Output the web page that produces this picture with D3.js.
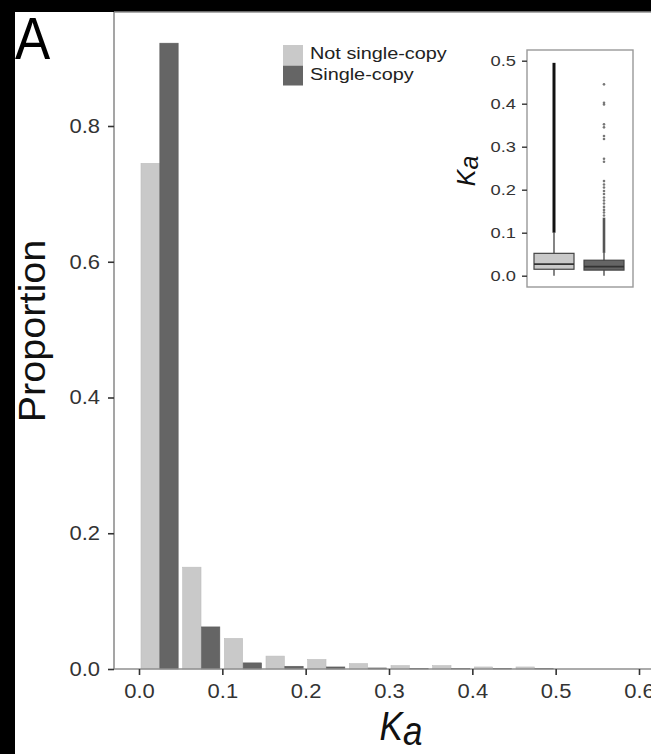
<!DOCTYPE html>
<html>
<head>
<meta charset="utf-8">
<script src="https://cdn.jsdelivr.net/npm/d3@7"></script>
<style>
  body { margin: 0; background: black; }
  text { font-family: "Liberation Sans", Arial, sans-serif; }
</style>
</head>
<body>
<div id="container"></div>
<script>
// histogram bins (width 0.05) and proportions
let binStarts = [0.00, 0.05, 0.10, 0.15, 0.20, 0.25, 0.30, 0.35, 0.40, 0.45];
let notSingle = [0.745, 0.150, 0.045, 0.019, 0.014, 0.008, 0.005, 0.005, 0.003, 0.003];
let single    = [0.922, 0.062, 0.009, 0.004, 0.003, 0.0015, 0.001, 0.0005, 0.001, 0.0005];
let xTicks = [0.0, 0.1, 0.2, 0.3, 0.4, 0.5, 0.6];
let yTicks = [0.0, 0.2, 0.4, 0.6, 0.8];
let seriesNames = ['Not single-copy', 'Single-copy'];

// inset boxplot summaries: [low whisker, q1, median, q3, high whisker]
let boxGroups = ['Not single-copy', 'Single-copy'];
let boxStats = [
  [0.000, 0.015, 0.027, 0.052, 0.100],
  [0.000, 0.013, 0.021, 0.036, 0.053]
];
// dense outlier runs (drawn as solid streak) and sparse outliers
let denseRuns = [[0.100, 0.495], [0.053, 0.135]];
let sparseOutliers = [
  [],
  [0.140, 0.147, 0.153, 0.160, 0.168, 0.175, 0.182, 0.190, 0.197, 0.205, 0.212, 0.220,
   0.265, 0.272, 0.318, 0.325, 0.345, 0.352, 0.398, 0.402, 0.445]
];
let insetTicks = [0.0, 0.1, 0.2, 0.3, 0.4, 0.5];

let colors = ['#c9c9c9', '#656565'];

let w = 651, h = 754;

let viz = d3.select('#container')
  .append('svg')
    .attr('width', w)
    .attr('height', h)
    .style('display', 'block')
    .style('background', 'black');

// stretch text along its baseline, the picture is wider than the glyphs
function widen(sel, k) {
  sel.each(function() {
    let len = this.getComputedTextLength();
    d3.select(this).attr('textLength', len * k).attr('lengthAdjust', 'spacingAndGlyphs');
  });
}

function main() {
  viz.append('rect')
    .attr('x', 15).attr('y', 12)
    .attr('width', w - 15).attr('height', h - 12)
    .attr('fill', 'white');

  let letter = viz.append('text')
    .attr('x', 15).attr('y', 59)
    .attr('font-size', 60)
    .attr('fill', 'black')
    .text('A');
  widen(letter, 0.88);

  let left = 114, top = 12, bottom = 669;
  let x = d3.scaleLinear().domain([0, 0.6]).range([139, 639]);
  let y = d3.scaleLinear().domain([0, 0.8]).range([bottom, 126]);

  // bars
  let binW = x(0.05) - x(0);
  let bars = viz.append('g');
  [notSingle, single].forEach(function(vals, s) {
    bars.selectAll('.bar' + s)
      .data(binStarts.map((b, i) => ({b: b, v: vals[i]})))
      .enter().append('rect')
        .attr('class', 'bar' + s)
        .attr('x', d => x(d.b) + 2 + s * (binW - 4) / 2)
        .attr('width', (binW - 4) / 2 - 0.5)
        .attr('y', d => y(d.v))
        .attr('height', d => bottom - y(d.v))
        .attr('fill', colors[s])
        .attr('stroke', s ? '#5a5a5a' : '#bdbdbd')
        .attr('stroke-width', 0.6);
  });

  // panel frame
  let frame = viz.append('g')
    .attr('stroke', '#8f8f8f')
    .attr('stroke-width', 1.6)
    .attr('fill', 'none');
  frame.append('line').attr('x1', left).attr('x2', w).attr('y1', top).attr('y2', top);
  frame.append('line').attr('x1', left).attr('x2', left).attr('y1', top).attr('y2', bottom);
  frame.append('line').attr('x1', left).attr('x2', w).attr('y1', bottom).attr('y2', bottom);

  // axes
  let xAxis = viz.append('g')
    .attr('transform', 'translate(0,' + bottom + ')')
    .call(d3.axisBottom(x).tickValues(xTicks).tickFormat(d3.format('.1f')).tickSize(6).tickPadding(9));
  let yAxis = viz.append('g')
    .attr('transform', 'translate(' + left + ',0)')
    .call(d3.axisLeft(y).tickValues(yTicks).tickFormat(d3.format('.1f')).tickSize(6).tickPadding(8));
  [xAxis, yAxis].forEach(function(a) {
    a.select('.domain').remove();
    a.selectAll('.tick line').attr('stroke', '#333').attr('stroke-width', 1.6);
    a.selectAll('.tick text')
      .attr('fill', '#333')
      .attr('font-size', 20)
      .style('font-family', '"Liberation Sans", Arial, sans-serif');
  });
  widen(xAxis.selectAll('.tick text'), 1.1);
  widen(yAxis.selectAll('.tick text'), 1.1);

  // axis titles
  let yt = viz.append('text')
    .attr('transform', 'translate(45,' + 331 + ') rotate(-90)')
    .attr('text-anchor', 'middle')
    .attr('font-size', 36)
    .attr('fill', '#111')
    .text('Proportion');
  widen(yt, 1.1);

  let xt = viz.append('text')
    .attr('transform', 'translate(401,740) scale(1,1.15)')
    .attr('text-anchor', 'middle')
    .attr('font-size', 35)
    .attr('font-style', 'italic')
    .attr('fill', '#111');
  xt.append('tspan').text('K');
  xt.append('tspan').attr('dy', 4).text('a');

  // legend
  let legend = viz.append('g').attr('transform', 'translate(283,45)');
  seriesNames.forEach(function(name, i) {
    legend.append('rect')
      .attr('x', 0).attr('y', i * 20.5)
      .attr('width', 20).attr('height', 20)
      .attr('fill', colors[i]);
    let t = legend.append('text')
      .attr('x', 27).attr('y', i * 20.5 + 14)
      .attr('font-size', 16)
      .attr('fill', '#222')
      .text(name);
    widen(t, 1.24);
  });

  // inset boxplot
  let ix0 = 527, ix1 = 633, iy0 = 50, iy1 = 287;
  let iy = d3.scaleLinear().domain([0, 0.5]).range([275.7, 60.7]);
  let ix = d3.scalePoint().domain(boxGroups).range([554, 604]);
  let bw = 40;

  viz.append('rect')
    .attr('x', ix0).attr('y', iy0)
    .attr('width', ix1 - ix0).attr('height', iy1 - iy0)
    .attr('fill', 'white')
    .attr('stroke', '#999')
    .attr('stroke-width', 1.4);

  let iAxis = viz.append('g')
    .attr('transform', 'translate(' + ix0 + ',0)')
    .call(d3.axisLeft(iy).tickValues(insetTicks).tickFormat(d3.format('.1f')).tickSize(5).tickPadding(6));
  iAxis.select('.domain').remove();
  iAxis.selectAll('.tick line').attr('stroke', '#333').attr('stroke-width', 1.4);
  iAxis.selectAll('.tick text')
    .attr('fill', '#333')
    .attr('font-size', 15)
    .style('font-family', '"Liberation Sans", Arial, sans-serif');
  widen(iAxis.selectAll('.tick text'), 1.22);

  let it = viz.append('text')
    .attr('transform', 'translate(475,171) rotate(-90)')
    .attr('text-anchor', 'middle')
    .attr('font-size', 25)
    .attr('font-style', 'italic')
    .attr('fill', '#111');
  it.append('tspan').text('K');
  it.append('tspan').attr('dy', 3).text('a');

  let boxes = viz.append('g');
  boxGroups.forEach(function(g, i) {
    let s = boxStats[i], cx = ix(g);
    // whiskers
    boxes.append('line')
      .attr('x1', cx).attr('x2', cx)
      .attr('y1', iy(s[0])).attr('y2', iy(s[4]))
      .attr('stroke', '#333').attr('stroke-width', 1.2);
    // dense outlier streak
    boxes.append('line')
      .attr('x1', cx).attr('x2', cx)
      .attr('y1', iy(denseRuns[i][0])).attr('y2', iy(denseRuns[i][1]))
      .attr('stroke', i ? '#555' : '#111')
      .attr('stroke-width', i ? 2.6 : 3);
    boxes.selectAll('.out' + i)
      .data(sparseOutliers[i])
      .enter().append('circle')
        .attr('class', 'out' + i)
        .attr('cx', cx)
        .attr('cy', d => iy(d))
        .attr('r', 1.3)
        .attr('fill', '#777');
    boxes.append('rect')
      .attr('x', cx - bw / 2).attr('width', bw)
      .attr('y', iy(s[3])).attr('height', iy(s[1]) - iy(s[3]))
      .attr('fill', colors[i])
      .attr('stroke', '#444').attr('stroke-width', 1.2);
    boxes.append('line')
      .attr('x1', cx - bw / 2).attr('x2', cx + bw / 2)
      .attr('y1', iy(s[2])).attr('y2', iy(s[2]))
      .attr('stroke', '#333').attr('stroke-width', 1.6);
  });
}

main();
</script>
</body>
</html>
